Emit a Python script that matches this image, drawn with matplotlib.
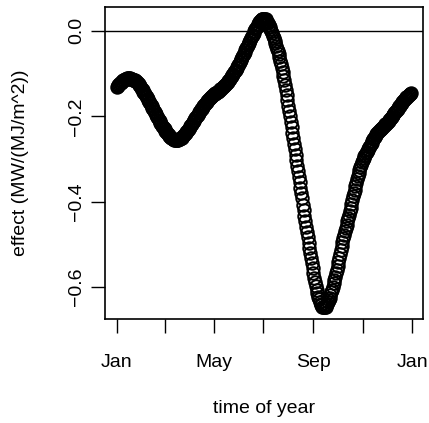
import numpy as np
import matplotlib
matplotlib.use("Agg")
import matplotlib.pyplot as plt

plt.rcParams['font.family'] = ['Liberation Sans', 'DejaVu Sans']

# seasonal effect, one value per day of year
effect = [
    -0.132, -0.129, -0.127, -0.125, -0.123, -0.121, -0.119, -0.117, -0.116, -0.114,
    -0.113, -0.112, -0.112, -0.111, -0.111, -0.111, -0.111, -0.112, -0.112, -0.113,
    -0.114, -0.115, -0.116, -0.117, -0.118, -0.120, -0.122, -0.124, -0.127, -0.130,
    -0.133, -0.136, -0.139, -0.142, -0.146, -0.149, -0.153, -0.156, -0.160, -0.163,
    -0.167, -0.170, -0.174, -0.177, -0.181, -0.184, -0.188, -0.191, -0.195, -0.198,
    -0.202, -0.205, -0.209, -0.212, -0.215, -0.219, -0.222, -0.225, -0.228, -0.231,
    -0.234, -0.237, -0.239, -0.242, -0.244, -0.246, -0.248, -0.250, -0.252, -0.253,
    -0.254, -0.255, -0.256, -0.256, -0.256, -0.256, -0.255, -0.254, -0.253, -0.251,
    -0.250, -0.248, -0.246, -0.244, -0.242, -0.240, -0.237, -0.235, -0.232, -0.229,
    -0.226, -0.223, -0.220, -0.217, -0.214, -0.211, -0.208, -0.205, -0.202, -0.199,
    -0.196, -0.193, -0.190, -0.187, -0.184, -0.182, -0.179, -0.177, -0.174, -0.172,
    -0.169, -0.167, -0.165, -0.162, -0.160, -0.158, -0.156, -0.154, -0.152, -0.151,
    -0.149, -0.148, -0.146, -0.145, -0.143, -0.142, -0.140, -0.139, -0.137, -0.135,
    -0.133, -0.132, -0.130, -0.128, -0.126, -0.124, -0.122, -0.120, -0.117, -0.115,
    -0.112, -0.109, -0.106, -0.103, -0.100, -0.097, -0.094, -0.091, -0.087, -0.084,
    -0.080, -0.077, -0.073, -0.069, -0.065, -0.061, -0.057, -0.053, -0.049, -0.045,
    -0.041, -0.037, -0.033, -0.029, -0.025, -0.021, -0.017, -0.013, -0.009, -0.005,
    -0.001, 0.004, 0.007, 0.010, 0.014, 0.017, 0.020, 0.023, 0.025, 0.027,
    0.028, 0.029, 0.029, 0.028, 0.027, 0.024, 0.021, 0.018, 0.014, 0.009,
    0.005, 0.000, -0.006, -0.012, -0.017, -0.023, -0.029, -0.035, -0.042, -0.048,
    -0.055, -0.062, -0.070, -0.078, -0.087, -0.096, -0.106, -0.116, -0.127, -0.138,
    -0.150, -0.162, -0.175, -0.188, -0.200, -0.213, -0.226, -0.239, -0.252, -0.265,
    -0.277, -0.290, -0.303, -0.316, -0.329, -0.342, -0.354, -0.367, -0.380, -0.392,
    -0.407, -0.420, -0.433, -0.446, -0.459, -0.471, -0.484, -0.496, -0.509, -0.521,
    -0.533, -0.545, -0.556, -0.567, -0.578, -0.588, -0.598, -0.607, -0.615, -0.623,
    -0.629, -0.635, -0.639, -0.643, -0.646, -0.647, -0.648, -0.647, -0.646, -0.643,
    -0.640, -0.635, -0.630, -0.625, -0.619, -0.613, -0.606, -0.599, -0.591, -0.584,
    -0.576, -0.568, -0.560, -0.551, -0.541, -0.532, -0.522, -0.513, -0.503, -0.494,
    -0.486, -0.478, -0.470, -0.462, -0.454, -0.446, -0.439, -0.431, -0.422, -0.414,
    -0.405, -0.397, -0.388, -0.380, -0.372, -0.364, -0.356, -0.348, -0.341, -0.334,
    -0.327, -0.320, -0.314, -0.308, -0.303, -0.298, -0.294, -0.290, -0.286, -0.283,
    -0.279, -0.276, -0.273, -0.269, -0.266, -0.262, -0.258, -0.254, -0.251, -0.248,
    -0.245, -0.242, -0.240, -0.237, -0.235, -0.233, -0.231, -0.229, -0.227, -0.225,
    -0.223, -0.221, -0.219, -0.217, -0.215, -0.213, -0.211, -0.208, -0.206, -0.204,
    -0.201, -0.198, -0.196, -0.193, -0.190, -0.187, -0.185, -0.182, -0.180, -0.177,
    -0.175, -0.172, -0.170, -0.167, -0.165, -0.163, -0.160, -0.158, -0.156, -0.154,
    -0.152, -0.150, -0.149, -0.147, -0.145,
]
day = np.arange(1, len(effect) + 1)

# first day of every second month, labels on every other tick
tick_days = [1, 60, 121, 182, 244, 305, 366]
tick_labels = ['Jan', '', 'May', '', 'Sep', '', 'Jan']
y_ticks = [0.0, -0.2, -0.4, -0.6]
y_tick_labels = ['0.0', '\u22120.2', '\u22120.4', '\u22120.6']

fig = plt.figure(figsize=(4.29, 4.23), dpi=100)
ax = fig.add_axes([0.2448, 0.2459, 0.7413, 0.7376])

ax.plot(day, effect, linestyle='none', marker='o', markersize=9,
        markerfacecolor='none', markeredgecolor='black', markeredgewidth=1.4)
ax.axhline(0, color='black', linewidth=1.0)

# R-style 4% padding around the data range
def padded(lo, hi):
    d = hi - lo
    return lo - 0.04 * d, hi + 0.04 * d

ax.set_xlim(*padded(day.min(), day.max()))
ax.set_ylim(*padded(min(effect), max(effect)))

ax.set_xticks(tick_days)
ax.set_xticklabels(tick_labels)
ax.set_yticks(y_ticks)
ax.set_yticklabels(y_tick_labels, rotation=90, va='center', ha='center')

ax.tick_params(axis='both', direction='out', length=10, width=1.0, labelsize=14)
ax.tick_params(axis='x', pad=15)
ax.tick_params(axis='y', pad=10.5)
for s in ax.spines.values():
    s.set_linewidth(1.2)

ax.set_xlabel('time of year', fontsize=14)
ax.set_ylabel('effect (MW/(MJ/m^2))', fontsize=14)
ax.xaxis.set_label_coords(0.5, -0.288)
ax.xaxis.label.set_va('center')
ax.yaxis.set_label_coords(-0.267, 0.5)
ax.yaxis.label.set_va('center')

fig.savefig('out.png', dpi=100)
